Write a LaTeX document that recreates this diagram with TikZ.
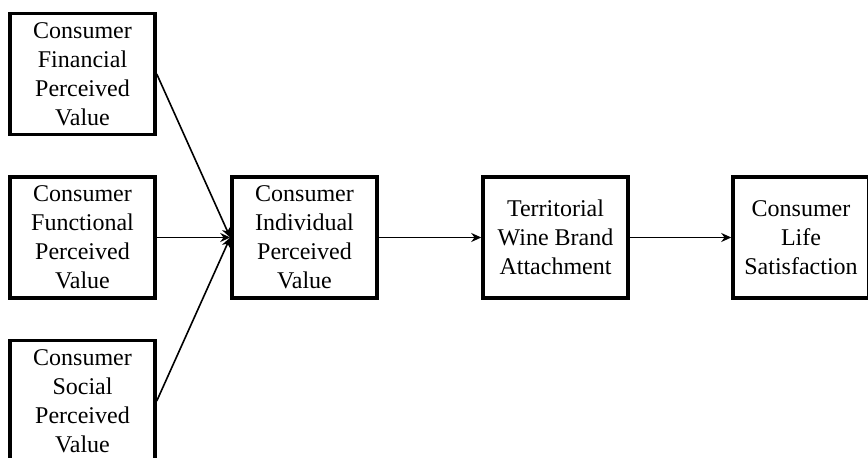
\documentclass[tikz,border=0pt]{standalone}
\usepackage{fontspec}
\setmainfont{Liberation Serif}
\usetikzlibrary{positioning,arrows.meta}

\begin{document}
\begin{tikzpicture}[
x=0.5pt, y=-0.5pt,
construct/.style={rectangle, draw=black, line width=1.75pt, minimum width=72.5pt, minimum height=60.5pt, inner sep=0pt, align=center, font=\fontsize{12}{14.5}\selectfont},
path/.style={-{Stealth[length=5pt, width=4.5pt]}, line width=0.8pt},
node distance=19.5pt and 36.75pt
]
\useasboundingbox (0,0) rectangle (868,458);
\clip (0,0) rectangle (868,458);
\node[construct] (FUN) at (82.5,237.5) {Consumer\\Functional\\Perceived\\Value};
\node[construct] (FIN) [above=of FUN] {Consumer\\Financial\\Perceived\\Value};
\node[construct] (SOC) [below=of FUN] {Consumer\\Social\\Perceived\\Value};
\node[construct] (IND) [right=of FUN] {Consumer\\Individual\\Perceived\\Value};
\node[construct] (TWBA) [right=51.25pt of IND] {Territorial\\Wine Brand\\Attachment};
\node[construct, minimum width=68pt] (CLS) [right=50.75pt of TWBA] {Consumer\\Life\\Satisfaction};
\draw[path] (FIN.east) -- (IND.west);
\draw[path] (FUN.east) -- (IND.west);
\draw[path] (SOC.east) -- (IND.west);
\draw[path] (IND) -- (TWBA);
\draw[path] (TWBA) -- (CLS);
\end{tikzpicture}
\end{document}
